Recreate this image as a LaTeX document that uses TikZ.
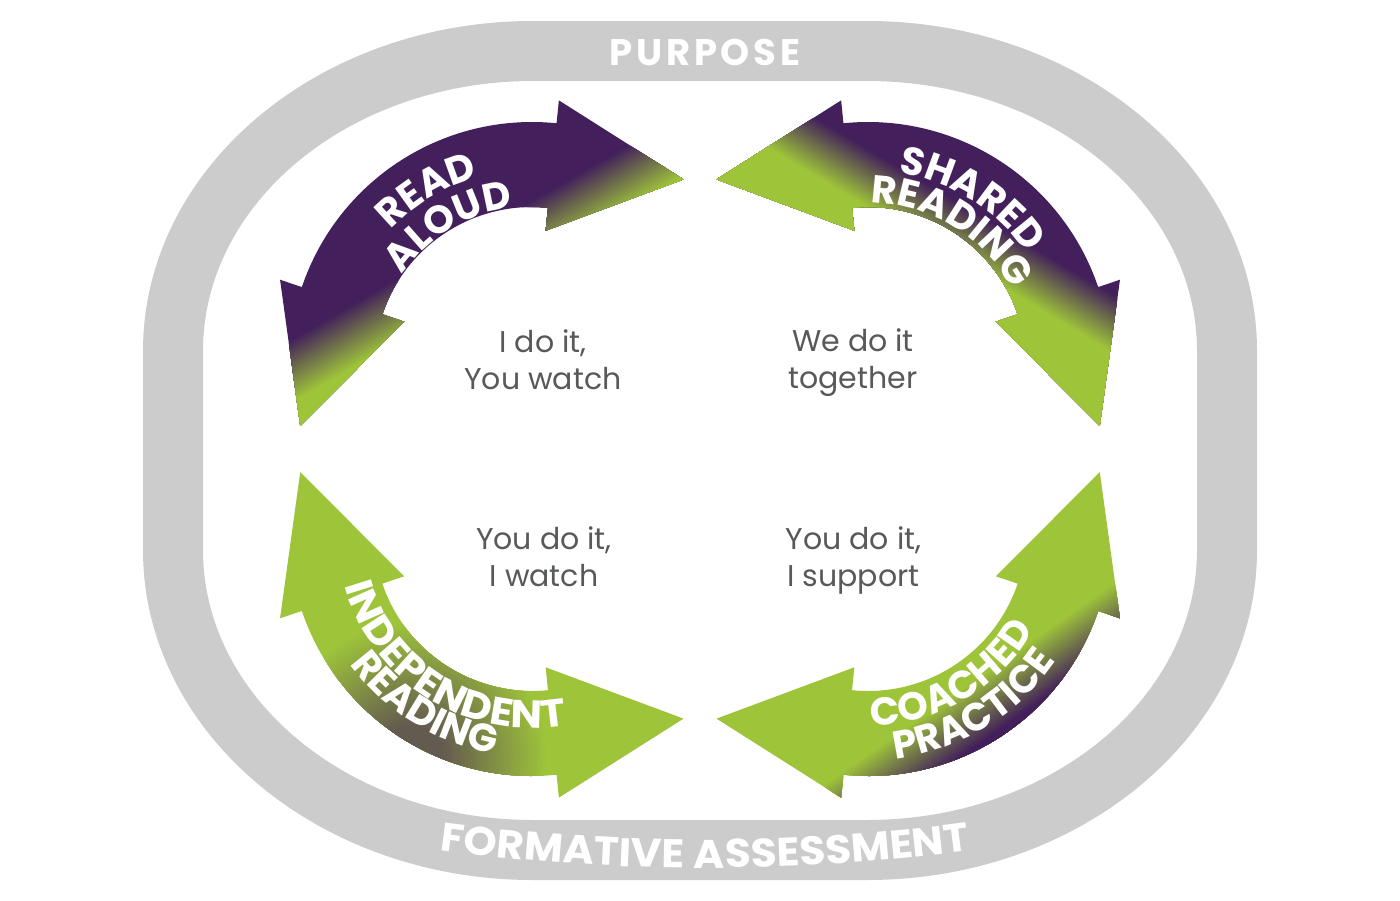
\documentclass[tikz,border=0pt]{standalone}
\usepackage{fontspec}
\usetikzlibrary{calc,decorations.text}
\newfontfamily\bodyfont{Poppins}
\newfontfamily\labfont{Poppins}
\newfontfamily\labwidefont{Poppins}[FakeStretch=1.08]
\newfontfamily\ringfont{Poppins}[FakeStretch=1.06]
\newfontfamily\purfont{Poppins}[LetterSpace=10]
\definecolor{ringgray}{HTML}{CCCCCC}
\definecolor{pur}{HTML}{43205B}
\definecolor{grn}{HTML}{9EC43A}
\definecolor{txtgray}{HTML}{58595B}
\newcommand\lbl{\labfont\bfseries\fontsize{39}{39}\selectfont\color{white}}
\newcommand\lblw{\labwidefont\bfseries\fontsize{39}{39}\selectfont\color{white}}
\newcommand\rlbl{\ringfont\bfseries\fontsize{40}{40}\selectfont\color{white}}
% curved double-headed arrow: #1 centre, #2 start angle, #3 end angle (image angles, y down)
\newcommand\arrowpath[3]{%
 ($(#1)+(#2:158)$) -- ($(#1)+(#2:135)$) -- ($(#1)+(#2:200)+({#2-90}:132)$) -- ($(#1)+(#2:266)$) -- ($(#1)+(#2:243)$)
 arc[start angle=#2, end angle=#3, radius=243]
 -- ($(#1)+(#3:266)$) -- ($(#1)+(#3:200)+({#3+90}:132)$) -- ($(#1)+(#3:135)$) -- ($(#1)+(#3:158)$)
 arc[start angle=#3, end angle=#2, radius=158] -- cycle}
% stepped linear gradient: #1 direction, #2 s0, #3 s1, #4 from colour, #5 to colour
\newcommand\lingrad[5]{%
 \foreach \i in {1,...,30}{%
  \pgfmathsetmacro\ss{#2+(#3-#2)*(\i-0.5)/30}%
  \pgfmathsetmacro\pc{100*\i/30}%
  \fill[#5!\pc!#4] ($({#1}:{\ss})+({#1+90}:3000)$) -- ($({#1}:{\ss})+({#1-90}:3000)$) -- ($({#1}:{\ss+3000})+({#1-90}:3000)$) -- ($({#1}:{\ss+3000})+({#1+90}:3000)$) -- cycle;
 }}
\begin{document}
\begin{tikzpicture}[x=1pt,y=-1pt,
  bodytxt/.style={font=\bodyfont\fontsize{30}{37}\selectfont, text=txtgray, align=center, inner sep=0pt},
  ringtxt/.style={font=\purfont\bfseries\fontsize{37}{37}\selectfont, text=white, inner sep=0pt}]
\useasboundingbox (0,0) rectangle (1400,900);
\fill[white] (0,0) rectangle (1400,900);
% ring
\fill[ringgray, even odd rule]
 (533,21) -- (867,21) arc[start angle=270,end angle=360,x radius=390,y radius=330] -- (1257,550)
 arc[start angle=0,end angle=90,x radius=390,y radius=330] -- (533,880)
 arc[start angle=90,end angle=180,x radius=390,y radius=330] -- (143,351)
 arc[start angle=180,end angle=270,x radius=390,y radius=330] -- cycle
 (533,81) -- (867,81) arc[start angle=270,end angle=360,x radius=330,y radius=270] -- (1197,550)
 arc[start angle=0,end angle=90,x radius=330,y radius=270] -- (533,820)
 arc[start angle=90,end angle=180,x radius=330,y radius=270] -- (203,351)
 arc[start angle=180,end angle=270,x radius=330,y radius=270] -- cycle;
\node[ringtxt] (purpose) at (705,52) {PURPOSE};
\coordinate (fcen) at (705,-1132);
\path[decorate, decoration={text along path, text align=center, text={|\rlbl|FORMATIVE ASSESSMENT}}]
 ($(fcen)+(100:2000)$) arc[start angle=100, end angle=80, radius=2000];
% arc centres
\coordinate (cRA) at (532,365);
\coordinate (cSR) at (868,365);
\coordinate (cIR) at (532,533);
\coordinate (cCP) at (868,533);
\coordinate (pIR) at (412,757);
% READ ALOUD
\fill[pur] \arrowpath{cRA}{198.7}{275.8};
\begin{scope}
 \clip \arrowpath{cRA}{198.7}{275.8};
 \lingrad{60}{440}{495}{pur}{grn}
\end{scope}
% SHARED READING
\fill[pur] \arrowpath{cSR}{264.2}{341.3};
\begin{scope}
 \clip \arrowpath{cSR}{264.2}{341.3};
 \lingrad{120.7}{-315}{-265}{pur}{grn}
\end{scope}
% INDEPENDENT READING
\fill[grn] \arrowpath{cIR}{84.2}{161.3};
\begin{scope}
 \clip \arrowpath{cIR}{84.2}{161.3};
 \foreach \i in {1,...,30}{%
  \pgfmathsetmacro\rr{135-(135-30)*(\i-0.5)/30}%
  \pgfmathsetmacro\pc{65*\i/30}%
  \fill[pur!\pc!grn] (pIR) circle[radius=\rr];
 }
\end{scope}
% COACHED PRACTICE
\fill[grn] \arrowpath{cCP}{18.7}{95.8};
\begin{scope}
 \clip \arrowpath{cCP}{18.7}{95.8};
 \lingrad{55.2}{1115}{1170}{grn}{pur}
\end{scope}
% arrow labels
\path[decorate, decoration={text along path, text align=center, text={|\lbl|READ}}]
 ($(cRA)+(179:195.5)$) arc[start angle=179, end angle=299, radius=195.5];
\path[decorate, decoration={text along path, text align=center, text={|\lbl|ALOUD}}]
 ($(cRA)+(179:158.5)$) arc[start angle=179, end angle=299, radius=158.5];
\path[decorate, decoration={text along path, text align=center, text={|\lbl|SHARED}}]
 ($(cSR)+(242:194.5)$) arc[start angle=242, end angle=362, radius=194.5];
\path[decorate, decoration={text along path, text align=center, text={|\lbl|READING}}]
 ($(cSR)+(241.6:162.5)$) arc[start angle=241.6, end angle=361.6, radius=162.5];
\path[decorate, decoration={text along path, text align=center, text={|\lblw|INDEPENDENT}}]
 ($(cIR)+(182:195)$) arc[start angle=182, end angle=62, radius=195];
\path[decorate, decoration={text along path, text align=center, text={|\lbl|READING}}]
 ($(cIR)+(182:224)$) arc[start angle=182, end angle=62, radius=224];
\path[decorate, decoration={text along path, text align=center, text={|\lbl|COACHED}}]
 ($(cCP)+(119.6:192.5)$) arc[start angle=119.6, end angle=-0.4, radius=192.5];
\path[decorate, decoration={text along path, text align=center, text={|\lbl|PRACTICE}}]
 ($(cCP)+(118.6:227.5)$) arc[start angle=118.6, end angle=-1.4, radius=227.5];
% body texts
\node[bodytxt] (q1) at (543,359.5) {I do it,\\You watch};
\node[bodytxt] (q2) at (853,363) {We do it\\together};
\node[bodytxt] (q3) at (544,556.5) {You do it,\\I watch};
\node[bodytxt] (q4) at (853.5,560) {You do it,\\I support};
\end{tikzpicture}
\end{document}
